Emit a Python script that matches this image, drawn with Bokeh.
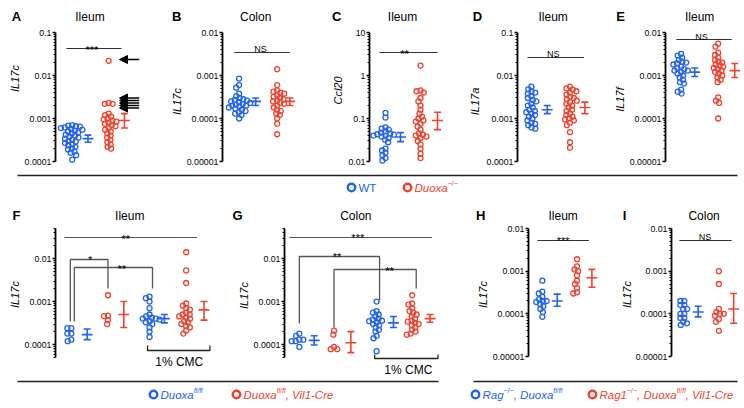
import math
from bokeh.plotting import figure
from bokeh.models import Range1d, FixedTicker, CustomJSTickFormatter, Arrow, NormalHead
from bokeh.layouts import column, row
from bokeh.embed import file_html
from bokeh.resources import INLINE
from bokeh.core.properties import value

# ---------------- data ----------------
# Panel A: IL17c, ileum (WT vs Duoxa-/-)
a_wt = [0.00070, 0.00068, 0.00066, 0.00065, 0.00062, 0.00060, 0.00057, 0.00055, 0.00052, 0.00050,
        0.00047, 0.00045, 0.00042, 0.00040, 0.00038, 0.00036, 0.00034, 0.00032, 0.00030, 0.00029,
        0.00027, 0.00025, 0.00024, 0.00022, 0.00020, 0.00019, 0.00017, 0.00016, 0.00014, 0.00011]
a_ko = [0.022, 0.0023, 0.0022, 0.0022, 0.0013, 0.0012, 0.0011, 0.0010, 0.00095, 0.0009, 0.00085,
        0.0008, 0.00075, 0.0007, 0.00066, 0.0006, 0.00055, 0.0005, 0.00045, 0.0004, 0.00036,
        0.00032, 0.00028, 0.00025, 0.00022, 0.0002]
a_sem = [[0.00034, 0.00028, 0.00041], [0.0009, 0.0006, 0.0013]]   # mean, lower, upper

# Panel B: IL17c, colon
b_wt = [0.00085, 0.00060, 0.00052, 0.00038, 0.00033, 0.00030, 0.00028, 0.00027, 0.00026, 0.00025,
        0.00024, 0.00023, 0.00022, 0.00021, 0.00020, 0.00020, 0.00019, 0.00018, 0.00017, 0.00016,
        0.00015, 0.00014, 0.00013, 0.00012, 0.00010]
b_ko = [0.0014, 0.0006, 0.00045, 0.00042, 0.0004, 0.00038, 0.00035, 0.00032, 0.0003, 0.00028,
        0.00026, 0.00025, 0.00023, 0.00022, 0.0002, 0.00018, 0.00016, 0.00015, 0.00013, 0.00012,
        0.0001, 0.000076, 0.000043]
b_sem = [[0.00025, 0.0002, 0.0003], [0.00025, 0.0002, 0.0003]]

# Panel C: Ccl20, ileum
c_wt = [0.135, 0.105, 0.062, 0.058, 0.055, 0.05, 0.047, 0.045, 0.043, 0.042, 0.04, 0.04, 0.038,
        0.035, 0.032, 0.028, 0.02, 0.018, 0.016, 0.014, 0.012, 0.0105]
c_ko = [1.7, 0.45, 0.43, 0.4, 0.3, 0.25, 0.2, 0.16, 0.13, 0.11, 0.1, 0.09, 0.085, 0.075, 0.065,
        0.055, 0.045, 0.042, 0.04, 0.038, 0.035, 0.03, 0.025, 0.02, 0.015, 0.012]
c_sem = [[0.037, 0.029, 0.047], [0.09, 0.055, 0.14]]

# Panel D: IL17a, ileum
d_wt = [0.0055, 0.0048, 0.0042, 0.004, 0.0038, 0.0033, 0.003, 0.0027, 0.0025, 0.0022, 0.002,
        0.0018, 0.0016, 0.0015, 0.0014, 0.0013, 0.0012, 0.0011, 0.001, 0.0009, 0.0008, 0.00075,
        0.0007, 0.00062, 0.00058]
d_ko = [0.0055, 0.005, 0.0047, 0.0043, 0.004, 0.0036, 0.0032, 0.003, 0.0028, 0.0026, 0.0024,
        0.0022, 0.002, 0.0018, 0.0016, 0.0015, 0.0013, 0.0012, 0.0011, 0.001, 0.00095, 0.0009,
        0.0008, 0.0007, 0.00048, 0.00028, 0.00021]
d_sem = [[0.0016, 0.0013, 0.002], [0.0018, 0.0013, 0.0024]]

# Panel E: IL17f, ileum
e_wt = [0.0032, 0.0029, 0.0026, 0.0023, 0.0021, 0.002, 0.0019, 0.0018, 0.0016, 0.0015, 0.0014,
        0.0013, 0.0013, 0.0012, 0.0011, 0.001, 0.0009, 0.0008, 0.0007, 0.00065, 0.00047, 0.00042,
        0.00038]
e_ko = [0.0055, 0.0047, 0.0034, 0.003, 0.0026, 0.0023, 0.0021, 0.002, 0.0018, 0.0017, 0.0016,
        0.0015, 0.0014, 0.0013, 0.0012, 0.0011, 0.001, 0.0009, 0.0008, 0.0007, 0.00031, 0.00026,
        0.00023, 0.0001]
e_sem = [[0.0012, 0.00095, 0.0015], [0.0013, 0.0009, 0.0019]]

# Panel F: IL17c ileum, Duoxa fl/fl vs Duoxa fl/fl Vil1-Cre, water vs 1% CMC
f_fl = [0.00024, 0.00024, 0.00018, 0.00018, 0.00012, 0.00013]
f_cre = [0.0014, 0.00047, 0.00046, 0.00037, 0.0003]
f_fl_cmc = [0.0013, 0.0012, 0.001, 0.0007, 0.0005, 0.00045, 0.00042, 0.0004, 0.0004, 0.00038,
            0.00035, 0.00033, 0.0003, 0.00025, 0.0002, 0.00015]
f_cre_cmc = [0.014, 0.0053, 0.0027, 0.0009, 0.0008, 0.0007, 0.00065, 0.00055, 0.0005, 0.0005,
             0.00045, 0.00042, 0.0004, 0.00035, 0.00033, 0.0003, 0.00027, 0.00025, 0.00021, 0.00018]
f_sem = [[0.00017, 0.00013, 0.00023], [0.0005, 0.00025, 0.001],
         [0.0004, 0.00032, 0.0005], [0.00064, 0.00037, 0.001]]

# Panel G: IL17c colon
g_fl = [0.00018, 0.00016, 0.00013, 0.00013, 0.00012, 0.00012, 0.000088]
g_cre = [0.00021, 0.00017, 0.000088, 0.000078, 0.000078]
g_fl_cmc = [0.001, 0.0006, 0.00055, 0.0005, 0.00045, 0.0004, 0.00038, 0.00036, 0.00035, 0.00033,
            0.0003, 0.00028, 0.00025, 0.00022, 0.0002, 0.00016, 0.00014, 0.00007]
g_cre_cmc = [0.0014, 0.0009, 0.00085, 0.0007, 0.0006, 0.00055, 0.0005, 0.00045, 0.0004, 0.00036,
             0.00034, 0.00032, 0.0003, 0.00028, 0.00025, 0.00022, 0.0002, 0.00018, 0.00017]
g_sem = [[0.000125, 0.000098, 0.00016], [0.00011, 0.000065, 0.0002],
         [0.00032, 0.00025, 0.00045], [0.0004, 0.00033, 0.0005]]

# Panel H: IL17c ileum, Rag-/- background
h_fl = [0.0006, 0.00033, 0.0003, 0.00025, 0.00022, 0.0002, 0.0002, 0.00019, 0.00017, 0.00015,
        0.00013, 0.00011, 0.000085]
h_cre = [0.0019, 0.0013, 0.0011, 0.001, 0.0008, 0.0006, 0.0005, 0.0004, 0.00032, 0.0003]
h_sem = [[0.0002, 0.00015, 0.00029], [0.0007, 0.00042, 0.0011]]

# Panel I: IL17c colon, Rag-/- background
i_fl = [0.0002, 0.0002, 0.00016, 0.00016, 0.00013, 0.00013, 0.0001, 0.0001, 0.00008, 0.00008,
        0.000065, 0.00006, 0.000055]
i_cre = [0.001, 0.0005, 0.00013, 0.00011, 0.0001, 0.0001, 0.00009, 0.000075, 0.000065, 0.00004]
i_sem = [[0.00011, 0.000085, 0.00015], [0.00013, 0.00006, 0.0003]]

# ---------------- styling ----------------
FONT = "Liberation Sans"
BLUE = "#2262F2"
RED = "#F2402E"
GRAY = "#555555"
LETTER = 13

CW = {' ': 278, ',': 278, '-': 333, '/': 278, '\u2212': 584, '%': 889, '.': 278,
      'A': 667, 'C': 722, 'D': 722, 'M': 833, 'R': 722, 'T': 611, 'V': 667, 'W': 944,
      'a': 556, 'c': 500, 'e': 556, 'f': 278, 'g': 556, 'i': 222, 'l': 222, 'o': 556,
      'r': 333, 'u': 556, 'x': 500}


def tw(s, size):
    return sum(CW.get(ch, 556) for ch in s) * size / 1000.0


def decade_ticks(lo, hi):
    majors, minors = [], []
    for e in range(math.floor(math.log10(lo)) - 1, math.ceil(math.log10(hi)) + 1):
        for m in range(1, 10):
            v = m * 10.0 ** e
            if lo * 0.995 <= v <= hi * 1.005:
                (majors if m == 1 else minors).append(v)
    return majors, minors


FMT = CustomJSTickFormatter(code="""
const e = Math.round(Math.log10(tick));
if (e >= 0) { return "1" + "0".repeat(e); }
return "0." + "0".repeat(-e - 1) + "1";
""")


def swarm(ys, d=4.0):
    order = sorted(range(len(ys)), key=lambda i: -ys[i])
    placed, xs = [], [0.0] * len(ys)
    for i in order:
        y = ys[i]
        cands = [0.0]
        for px, py in placed:
            dy = abs(y - py)
            if dy < d:
                dx = math.sqrt(d * d - dy * dy)
                cands += [px + dx, px - dx]
        cands.sort(key=lambda c: (abs(c), c))
        for c in cands:
            if all((c - px) ** 2 + (y - py) ** 2 >= d * d - 1e-6 for px, py in placed):
                xs[i] = c
                break
        placed.append((xs[i], y))
    return xs


def put_text(p, x, y, s, size, style="normal", color="black", angle=0.0, align="center",
             baseline="middle"):
    p.text([x], [y], [s], text_font=value(FONT), text_font_size=f"{size}px",
           text_font_style=style, text_color=color, angle=angle, text_align=align,
           text_baseline=baseline)


def plain_fig(x0, x1, y0, y1):
    s = figure(width=x1 - x0, height=y1 - y0, x_range=Range1d(x0, x1), y_range=Range1d(y1, y0),
               min_border=0, min_border_left=0, min_border_right=0, min_border_top=0,
               min_border_bottom=0, x_axis_location=None, y_axis_location=None,
               toolbar_location=None, output_backend="svg")
    s.outline_line_color = None
    s.grid.visible = False
    s.background_fill_color = "white"
    s.border_fill_color = "white"
    return s


class Panel:
    """One log-scaled panel; x coordinates are page pixels, the axis is bounded to its decades."""

    def __init__(self, x_left, x_right, frame_left, top_ref, bottom_ref, ax_lo, ax_hi, ax_top, ax_bot):
        self.pxd = (ax_bot - ax_top) / math.log10(ax_hi / ax_lo)
        self.ax_hi, self.ax_top = ax_hi, ax_top
        p = figure(width=x_right - x_left, height=bottom_ref - top_ref, y_axis_type="log",
                   x_axis_location=None, x_range=Range1d(frame_left, x_right),
                   y_range=Range1d(self.yv(bottom_ref), self.yv(top_ref)),
                   min_border_left=frame_left - x_left, min_border_right=0, min_border_top=0,
                   min_border_bottom=0, toolbar_location=None, output_backend="svg")
        p.outline_line_color = None
        p.grid.visible = False
        p.background_fill_color = "white"
        p.border_fill_color = "white"
        majors, minors = decade_ticks(ax_lo, ax_hi)
        ax = p.yaxis[0]
        ax.bounds = (ax_lo / 1.002, ax_hi * 1.002)
        ax.ticker = FixedTicker(ticks=majors, minor_ticks=minors)
        ax.formatter = FMT
        ax.axis_line_width = 1.8
        ax.axis_line_color = "black"
        ax.major_tick_line_width = 1.3
        ax.major_tick_line_color = "black"
        ax.minor_tick_line_width = 1.0
        ax.minor_tick_line_color = "black"
        ax.major_tick_out = 3
        ax.major_tick_in = 0
        ax.minor_tick_out = 2
        ax.minor_tick_in = 0
        ax.major_label_standoff = 1
        ax.major_label_text_font = FONT
        ax.major_label_text_font_size = "8.8px"
        ax.major_label_text_color = "black"
        self.p = p

    def yv(self, ref):
        return self.ax_hi * 10 ** ((self.ax_top - ref) / self.pxd)

    def group(self, vals, sem, color, cx, sx):
        p = self.p
        offs = swarm([math.log10(v) * self.pxd for v in vals])
        p.scatter([cx + o for o in offs], vals, marker="circle", size=5, line_color=color,
                  fill_color=None, line_width=1.3)
        m, l, u = sem
        kw = dict(line_color=color, line_width=1.6)
        p.segment([sx], [l], [sx], [u], **kw)
        p.segment([sx - 3.5, sx - 3.5], [l, u], [sx + 3.5, sx + 3.5], [l, u], **kw)
        p.segment([sx - 5.5], [m], [sx + 5.5], [m], **kw)

    def text(self, x, yref, s, size, style="normal", angle=0.0, baseline="middle", color="black"):
        put_text(self.p, x, self.yv(yref), s, size, style, color, angle, "center", baseline)

    def stars(self, x, yref, s, size=11):
        # centre the asterisk ink on yref
        self.text(x, yref + 0.55 * size, s, size, baseline="alphabetic")

    def ns(self, x, yref, size=9):
        self.text(x, yref + 0.36 * size, "NS", size, baseline="alphabetic")

    def heading(self, letter, lx, title, tx, ty):
        if letter:
            self.text(lx, ty, letter, LETTER, "bold")
        if title:
            self.text(tx, ty, title, 12)

    def ylabel(self, x, yref, s):
        self.text(x, yref, s, 11, "italic", math.pi / 2)

    def hline(self, x0, x1, yref, color="#333333"):
        self.p.segment([x0], [self.yv(yref)], [x1], [self.yv(yref)], line_color=color, line_width=1.1)

    def path(self, xs, yrefs, color=GRAY):
        self.p.line(xs, [self.yv(y) for y in yrefs], line_color=color, line_width=1.3)


# ---------------- top row (page y 0..172, axes 32..161) ----------------
T0, T1, TA, TB = 0, 172, 32, 161

la = plain_fig(0, 21, T0, T1)
put_text(la, 16, 16, "A", LETTER, "bold")
put_text(la, 14, 78, "IL17c", 11, "italic", angle=math.pi / 2)

pa = Panel(21, 183, 53, T0, T1, 1e-4, 0.1, TA, TB)
pa.group(a_wt, a_sem[0], BLUE, 70, 86)
pa.group(a_ko, a_sem[1], RED, 107, 123)
pa.hline(64, 120, 48)
pa.stars(90, 43, "***")
for yref in [59, 97.5, 100, 102.5, 105, 107.5]:
    yv = pa.yv(yref)
    pa.p.add_layout(Arrow(end=NormalHead(size=8, fill_color="black", line_color="black", line_width=1),
                          x_start=138, y_start=yv, x_end=118, y_end=yv, line_width=1.4,
                          line_color="black"))
pa.heading(None, 0, "Ileum", 88, 16)
pa.heading("B", 176, None, 0, 16)
pa.ylabel(176, 101, "IL17c")

pb = Panel(183, 345, 219, T0, T1, 1e-5, 0.01, TA, TB)
pb.group(b_wt, b_sem[0], BLUE, 236, 253)
pb.group(b_ko, b_sem[1], RED, 275, 288)
pb.hline(231, 288, 52)
pb.ns(258, 45)
pb.heading(None, 0, "Colon", 253, 16)
pb.heading("C", 336, None, 0, 16)
pb.ylabel(337, 90, "Ccl20")

pc = Panel(345, 483, 369, T0, T1, 0.01, 10, TA, TB)
pc.group(c_wt, c_sem[0], BLUE, 385, 400)
pc.group(c_ko, c_sem[1], RED, 420, 437)
pc.hline(379, 437, 52)
pc.stars(404, 47, "**")
pc.heading(None, 0, "Ileum", 402, 16)
pc.heading("D", 477, None, 0, 16)
pc.ylabel(474, 101, "IL17a")

pd = Panel(483, 626, 516, T0, T1, 1e-4, 0.1, TA, TB)
pd.group(d_wt, d_sem[0], BLUE, 530, 546)
pd.group(d_ko, d_sem[1], RED, 569, 584)
pd.hline(526, 583, 57)
pd.ns(552, 50)
pd.heading(None, 0, "Ileum", 552, 16)
pd.heading("E", 620, None, 0, 16)
pd.ylabel(619, 99, "IL17f")

pe = Panel(626, 744, 663, T0, T1, 1e-5, 0.01, TA, TB)
pe.group(e_wt, e_sem[0], BLUE, 679, 693)
pe.group(e_ko, e_sem[1], RED, 717, 734)
pe.hline(674, 731, 39)
pe.ns(700, 33)
pe.heading(None, 0, "Ileum", 698, 16)

# ---------------- bottom row (page y 205..378) ----------------
B0, B1 = 205, 378

lf = plain_fig(0, 21, B0, B1)
put_text(lf, 16, 215, "F", LETTER, "bold")
put_text(lf, 14, 294, "IL17c", 11, "italic", angle=math.pi / 2)

pf = Panel(21, 250, 53, B0, B1, 5e-5, 0.05, 228, 357)
pf.group(f_fl, f_sem[0], BLUE, 69, 85)
pf.group(f_cre, f_sem[1], RED, 106, 122)
pf.group(f_fl_cmc, f_sem[2], BLUE, 148, 163)
pf.group(f_cre_cmc, f_sem[3], RED, 185, 203)
pf.hline(62, 196, 237, GRAY)
pf.stars(124, 232, "**")
pf.path([68, 68, 106, 106], [321, 259, 259, 288])
pf.stars(88, 253, "*")
pf.path([72, 72, 151, 151], [321, 267, 267, 288])
pf.stars(120, 262, "**")
pf.path([146, 146, 209, 209], [345, 350, 350, 345], "#222222")
pf.text(178, 361, "1% CMC", 12)
pf.heading(None, 0, "Ileum", 128, 215)
pf.heading("G", 237, None, 0, 215)
pf.ylabel(243, 295, "IL17c")

pg = Panel(250, 489, 282, B0, B1, 5e-5, 0.05, 228, 357)
pg.group(g_fl, g_sem[0], BLUE, 297, 312)
pg.group(g_cre, g_sem[1], RED, 332, 349)
pg.group(g_fl_cmc, g_sem[2], BLUE, 375, 392)
pg.group(g_cre_cmc, g_sem[3], RED, 411, 429)
pg.hline(287, 431, 237, GRAY)
pg.stars(356, 231, "***")
pg.path([297, 297, 378, 378], [323, 256, 256, 300])
pg.stars(335, 250, "**")
pg.path([332, 332, 415, 415], [327, 269, 269, 288])
pg.stars(388, 264, "**")
pg.path([373, 373, 437, 437], [354, 358, 358, 354], "#222222")
pg.text(407, 369, "1% CMC", 12)
pg.heading(None, 0, "Colon", 354, 215)
pg.heading("H", 480, None, 0, 215)
pg.ylabel(482, 294, "IL17c")

ph = Panel(489, 632, 527, B0, B1, 1e-5, 0.01, 228, 356)
ph.group(h_fl, h_sem[0], BLUE, 541, 556)
ph.group(h_cre, h_sem[1], RED, 576, 591)
ph.hline(536, 588, 240)
ph.stars(562, 234, "***")
ph.heading(None, 0, "Ileum", 562, 215)
ph.heading("I", 624, None, 0, 215)
ph.ylabel(626, 294, "IL17c")

pi_ = Panel(632, 744, 670, B0, B1, 1e-5, 0.01, 228, 356)
pi_.group(i_fl, i_sem[0], BLUE, 683, 697)
pi_.group(i_cre, i_sem[1], RED, 718, 733)
pi_.hline(678, 731, 240)
pi_.ns(704, 233)
pi_.heading(None, 0, "Colon", 703, 215)


# ---------------- separators and legends ----------------
def legend_item(s, xm, y, color, pieces):
    s.scatter([xm], [y], marker="circle", size=7.5, line_color=color, line_width=2.4,
              fill_color="white")
    x = xm + 7
    for text, size, style, dy in pieces:
        put_text(s, x, y + dy, text, size, style, color, 0.0, "left", "middle")
        x += tw(text, size)


s1 = plain_fig(0, 744, 172, 205)
s1.segment([17], [175], [737], [175], line_color="#222222", line_width=1.3)
legend_item(s1, 351, 187, BLUE, [("WT", 11.5, "normal", 0)])
legend_item(s1, 407, 187, RED, [("Duoxa", 11.5, "italic", 0), ("\u2212/\u2212", 7, "normal", -4)])

s2 = plain_fig(0, 744, 378, 408)
s2.segment([17, 473], [381, 381], [438, 737], [381, 381], line_color="#222222", line_width=1.3)
legend_item(s2, 153, 394, BLUE, [("Duoxa", 11.5, "italic", 0), ("fl/fl", 7, "italic", -4)])
legend_item(s2, 236, 394, RED, [("Duoxa", 11.5, "italic", 0), ("fl/fl", 7, "italic", -4),
                                (", Vil1-Cre", 11.5, "italic", 0)])
legend_item(s2, 475, 394, BLUE, [("Rag", 11.5, "italic", 0), ("\u2212/\u2212", 7, "normal", -4),
                                 (", Duoxa", 11.5, "italic", 0), ("fl/fl", 7, "italic", -4)])
legend_item(s2, 592, 394, RED, [("Rag1", 11.5, "italic", 0), ("\u2212/\u2212", 7, "normal", -4),
                                (", Duoxa", 11.5, "italic", 0), ("fl/fl", 7, "italic", -4),
                                (", Vil1-Cre", 11.5, "italic", 0)])

layout = column(row(la, pa.p, pb.p, pc.p, pd.p, pe.p), s1,
                row(lf, pf.p, pg.p, ph.p, pi_.p), s2)

open("out.html", "w", encoding="utf-8").write(file_html(layout, INLINE, title="Duoxa IL17c"))
